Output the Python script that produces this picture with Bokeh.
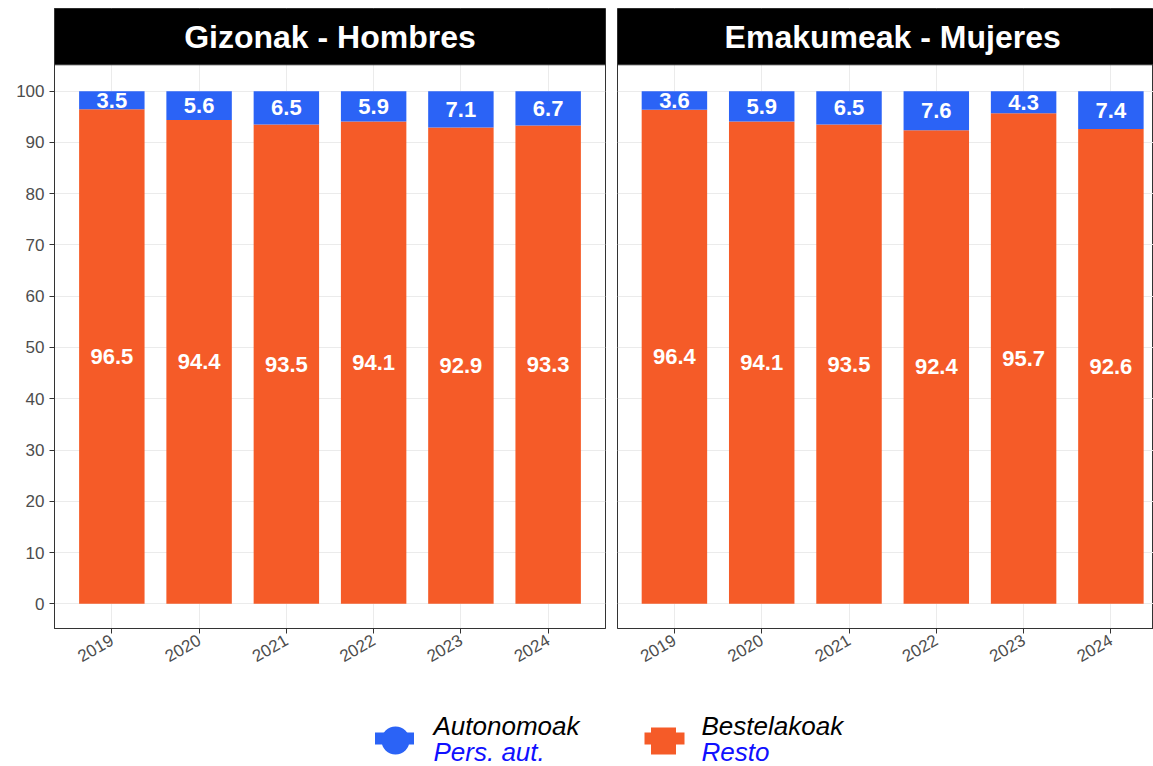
import math
from bokeh.plotting import figure
from bokeh.models import ColumnDataSource, Range1d, FixedTicker
from bokeh.layouts import row, column
from bokeh.core.properties import value
from bokeh.embed import file_html
from bokeh.resources import INLINE

# ---------------- data ----------------
years = ["2019", "2020", "2021", "2022", "2023", "2024"]
panel_titles = ["Gizonak - Hombres", "Emakumeak - Mujeres"]
aut_men = [3.5, 5.6, 6.5, 5.9, 7.1, 6.7]
resto_men = [96.5, 94.4, 93.5, 94.1, 92.9, 93.3]
aut_women = [3.6, 5.9, 6.5, 7.6, 4.3, 7.4]
resto_women = [96.4, 94.1, 93.5, 92.4, 95.7, 92.6]
series_eu = ["Autonomoak", "Bestelakoak"]
series_es = ["Pers. aut.", "Resto"]
y_ticks = list(range(0, 101, 10))

BLUE = "#2b63f6"
ORANGE = "#f55b28"
FONT = "Liberation Sans"
GRID = "#ebebeb"
DARK = "#333333"
TICKLAB = "#4d4d4d"

FRAME_H = 620
Y0, Y1 = -4.82, 116.13       # y range incl. strip
STRIP_BOTTOM = 105.15
TOP_BORDER = 8
BOTTOM_BORDER = 55


def make_panel(title, aut, resto, frame_w, x_start, x_end, left_border, right_border, show_y):
    xs = list(range(1, len(years) + 1))
    src = ColumnDataSource(dict(
        x=xs, resto=resto, aut=aut,
        y_resto=[r / 2 for r in resto],
        y_aut=[r + a / 2 for r, a in zip(resto, aut)],
        l_resto=[f"{v:.1f}" for v in resto],
        l_aut=[f"{v:.1f}" for v in aut],
    ))
    p = figure(frame_width=frame_w, frame_height=FRAME_H,
               x_range=Range1d(x_start, x_end), y_range=Range1d(Y0, Y1),
               output_backend="svg", toolbar_location=None,
               min_border_left=left_border, min_border_right=right_border,
               min_border_top=TOP_BORDER, min_border_bottom=BOTTOM_BORDER)
    p.background_fill_color = "white"
    p.border_fill_color = "white"
    p.outline_line_color = DARK
    p.outline_line_width = 1

    p.vbar_stack(["resto", "aut"], x="x", width=0.75, color=[ORANGE, BLUE],
                 line_color=None, source=src)
    common = dict(text_color="white", text_font=value(FONT), text_font_style="bold",
                  text_font_size="22px", text_align="center", text_baseline="middle")
    p.text(x="x", y="y_resto", text="l_resto", source=src, **common)
    p.text(x="x", y="y_aut", text="l_aut", source=src, **common)

    # facet strip
    p.quad(left=[x_start], right=[x_end], bottom=[STRIP_BOTTOM], top=[Y1],
           fill_color="black", line_color=DARK, line_width=1)
    p.text(x=[sum(xs) / len(xs)], y=[(STRIP_BOTTOM + Y1) / 2], text=[title],
           text_color="white", text_font=value(FONT), text_font_style="bold",
           text_font_size="32px", text_align="center", text_baseline="middle")

    # grid
    p.xgrid.ticker = FixedTicker(ticks=xs)
    p.ygrid.ticker = FixedTicker(ticks=y_ticks)
    p.grid.grid_line_color = GRID
    p.grid.grid_line_width = 1
    p.grid.minor_grid_line_color = None

    # axes
    p.xaxis.ticker = FixedTicker(ticks=xs)
    p.xaxis.major_label_overrides = {x: y for x, y in zip(xs, years)}
    p.xaxis.major_label_orientation = math.pi / 6
    p.yaxis.ticker = FixedTicker(ticks=y_ticks)
    for ax in (p.xaxis[0], p.yaxis[0]):
        ax.axis_line_color = DARK
        ax.major_tick_line_color = DARK
        ax.major_tick_out = 5
        ax.major_tick_in = 0
        ax.minor_tick_line_color = None
        ax.major_label_text_font = FONT
        ax.major_label_text_font_size = "17px"
        ax.major_label_text_color = TICKLAB
        ax.major_label_standoff = 5
    if not show_y:
        p.yaxis.visible = False
    return p


p1 = make_panel(panel_titles[0], aut_men, resto_men, 551, 0.343, 6.657, 54, 6, True)
p2 = make_panel(panel_titles[1], aut_women, resto_women, 536, 0.348, 6.488, 6, 0, False)

# ---------------- legend ----------------
LW, LH = 1153, 83
leg = figure(width=LW, height=LH, x_range=Range1d(0, LW), y_range=Range1d(0, LH),
             output_backend="svg", toolbar_location=None,
             min_border=0, min_border_left=0, min_border_right=0,
             min_border_top=0, min_border_bottom=0)
leg.axis.visible = False
leg.grid.visible = False
leg.outline_line_color = None
leg.background_fill_color = "white"
leg.border_fill_color = "white"

key_x = [395, 663]
key_y = 27
# blue key: bar + circle
leg.rect(x=[key_x[0] - 1], y=[key_y + 1], width=39, height=12, fill_color=BLUE, line_color=None)
leg.scatter(x=[key_x[0]], y=[key_y - 1], marker="circle", size=28, fill_color=BLUE, line_color=None)
# orange key: bar + square
leg.rect(x=[key_x[1] + 1], y=[key_y + 1], width=40, height=12, fill_color=ORANGE, line_color=None)
leg.rect(x=[key_x[1]], y=[key_y - 1.5], width=25, height=27, fill_color=ORANGE, line_color=None)

text_x = [k + 38 for k in key_x]
leg.text(x=text_x, y=[key_y + 14] * 2, text=series_eu, text_color="black",
         text_font=value(FONT), text_font_style="italic", text_font_size="26px",
         text_align="left", text_baseline="middle")
leg.text(x=text_x, y=[key_y - 12] * 2, text=series_es, text_color="#1010ff",
         text_font=value(FONT), text_font_style="italic", text_font_size="26px",
         text_align="left", text_baseline="middle")

layout = column(row(p1, p2), leg)
open("out.html", "w").write(file_html(layout, INLINE))
